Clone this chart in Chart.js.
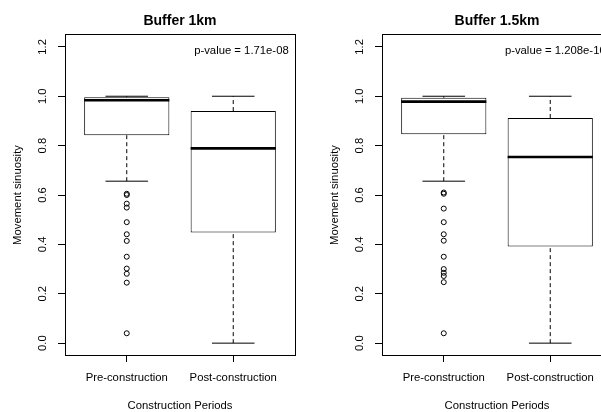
<!DOCTYPE html>
<html>
<head>
<meta charset="utf-8">
<script src="https://cdn.jsdelivr.net/npm/chart.js@4/dist/chart.umd.min.js"></script>
<style>
  html, body { margin: 0; padding: 0; background: #fff; overflow: hidden; }
  #wrap { position: relative; width: 601px; height: 412px; overflow: hidden; }
  .panel { position: absolute; top: 0; width: 317px; height: 412px; }
  #p1 { left: 0; }
  #p2 { left: 317px; }
</style>
</head>
<body>
<div id="wrap">
  <div class="panel" id="p1"><canvas id="c1" width="317" height="412"></canvas></div>
  <div class="panel" id="p2"><canvas id="c2" width="317" height="412"></canvas></div>
</div>
<script>
// Groups on the x axis
const categories = ['Pre-construction', 'Post-construction'];
const categoryPositions = [1, 2];

// Axis ticks
const yTicks = [0, 0.2, 0.4, 0.6, 0.8, 1.0, 1.2];
const yTickLabels = ['0.0', '0.2', '0.4', '0.6', '0.8', '1.0', '1.2'];

// Panel titles and test results
const panelTitles = ['Buffer 1km', 'Buffer 1.5km'];
const pValueLabels = ['p-value = 1.71e-08', 'p-value = 1.208e-10'];

// Box statistics: [lower whisker, Q1, median, Q3, upper whisker]
const statsPre1km = [0.656, 0.842, 0.984, 0.996, 1.0];
const statsPost1km = [0.0, 0.448, 0.789, 0.940, 1.0];
const statsPre15km = [0.656, 0.846, 0.978, 0.994, 1.0];
const statsPost15km = [0.0, 0.391, 0.754, 0.912, 1.0];

// Points beyond the whiskers
const outliersPre1km = [0.605, 0.600, 0.565, 0.549, 0.490, 0.441, 0.414, 0.350, 0.302, 0.281, 0.245, 0.040];
const outliersPost1km = [];
const outliersPre15km = [0.610, 0.605, 0.545, 0.490, 0.441, 0.415, 0.350, 0.300, 0.285, 0.272, 0.247, 0.040];
const outliersPost15km = [];

// Drawing constants
const FONT = '"Liberation Sans", Arial, Helvetica, sans-serif';
const TXT = 11.3;
const BOX_HALF = 0.4;      // half box width in x units
const CAP_HALF = 0.2;      // half whisker-cap width in x units
const INK = '#000';

function segments(groups, fn) {
  const out = [];
  groups.forEach(g => {
    const seg = fn(g);
    if (!seg) return;
    out.push(seg[0], seg[1], { x: g.x + 0.5, y: null });
  });
  return out;
}

const panelDecor = {
  id: 'panelDecor',
  afterDraw(chart, args, opts) {
    const { ctx, chartArea: a, scales: { y } } = chart;
    ctx.save();
    // frame around the plotting region
    ctx.strokeStyle = INK;
    ctx.lineWidth = 1;
    const l = Math.round(a.left), r = Math.round(a.right);
    const t = Math.round(a.top), b = Math.round(a.bottom);
    ctx.strokeRect(l + 0.5, t - 0.5, r - l, b - t + 1);
    // vertical y tick labels
    ctx.fillStyle = INK;
    ctx.font = TXT + 'px ' + FONT;
    ctx.textAlign = 'center';
    ctx.textBaseline = 'middle';
    yTicks.forEach((v, i) => {
      const py = y.getPixelForValue(v);
      ctx.save();
      ctx.translate(a.left - 22, py);
      ctx.rotate(-Math.PI / 2);
      ctx.fillText(yTickLabels[i], 0, 0);
      ctx.restore();
    });
    // test result in the top-right corner
    ctx.textAlign = 'right';
    ctx.fillText(opts.text, a.right - 6.3, a.top + 15.6);
    ctx.restore();
  }
};

function makePanel(canvasId, title, pText, stats, outliers) {
  const groups = categoryPositions.map((x, i) => ({ x, s: stats[i], out: outliers[i] }));

  const datasets = [
    {
      type: 'line', label: 'median',
      data: segments(groups, g => [{ x: g.x - BOX_HALF, y: g.s[2] }, { x: g.x + BOX_HALF, y: g.s[2] }]),
      borderColor: INK, borderWidth: 2.6, pointRadius: 0, fill: false, spanGaps: false, borderCapStyle: 'butt'
    },
    {
      type: 'line', label: 'upper cap',
      data: segments(groups, g => [{ x: g.x - CAP_HALF, y: g.s[4] }, { x: g.x + CAP_HALF, y: g.s[4] }]),
      borderColor: INK, borderWidth: 1, pointRadius: 0, fill: false, spanGaps: false
    },
    {
      type: 'line', label: 'lower cap',
      data: segments(groups, g => [{ x: g.x - CAP_HALF, y: g.s[0] }, { x: g.x + CAP_HALF, y: g.s[0] }]),
      borderColor: INK, borderWidth: 1, pointRadius: 0, fill: false, spanGaps: false
    },
    {
      type: 'line', label: 'upper whisker',
      data: segments(groups, g => [{ x: g.x, y: g.s[3] }, { x: g.x, y: g.s[4] }]),
      borderColor: INK, borderWidth: 1, borderDash: [4, 3], pointRadius: 0, fill: false, spanGaps: false
    },
    {
      type: 'line', label: 'lower whisker',
      data: segments(groups, g => [{ x: g.x, y: g.s[0] }, { x: g.x, y: g.s[1] }]),
      borderColor: INK, borderWidth: 1, borderDash: [4, 3], pointRadius: 0, fill: false, spanGaps: false
    },
    {
      type: 'scatter', label: 'outliers',
      data: groups.flatMap(g => g.out.map(v => ({ x: g.x, y: v }))),
      pointStyle: 'circle', pointRadius: 2.5, pointBorderWidth: 1,
      borderColor: INK, backgroundColor: 'rgba(0,0,0,0)'
    },
    {
      type: 'bar', label: 'box',
      data: groups.map(g => ({ x: g.x, y: [g.s[1], g.s[3]] })),
      backgroundColor: '#fff', borderColor: INK, borderWidth: 1, borderSkipped: false,
      barPercentage: 0.8, categoryPercentage: 1.0
    }
  ];

  return new Chart(document.getElementById(canvasId), {
    type: 'bar',
    data: { datasets },
    options: {
      responsive: false,
      animation: false,
      events: [],
      layout: { padding: { left: 0, right: 22, top: 0, bottom: 0 } },
      plugins: {
        legend: { display: false },
        tooltip: { enabled: false },
        title: {
          display: true, text: title, fullSize: false, color: INK,
          font: { family: FONT, size: 14, weight: 'bold', lineHeight: 1.2 },
          padding: { top: 12.7, bottom: 5.5 }
        },
        panelDecor: { text: pText }
      },
      scales: {
        x: {
          type: 'linear', min: 0.42, max: 2.58, offset: false,
          afterBuildTicks: s => { s.ticks = categoryPositions.map(v => ({ value: v })); },
          afterFit: s => { s.height = 57; },
          ticks: {
            color: INK, font: { family: FONT, size: TXT }, padding: 8.8,
            autoSkip: false, maxRotation: 0, minRotation: 0,
            callback: v => categories[categoryPositions.indexOf(v)]
          },
          grid: { display: true, drawOnChartArea: false, drawTicks: true, tickLength: 7, color: INK, offset: false },
          border: { display: false },
          title: {
            display: true, text: 'Construction Periods', color: INK,
            font: { family: FONT, size: TXT, lineHeight: 1 }, padding: { top: 0, bottom: 0 }
          }
        },
        y: {
          type: 'linear', min: -0.048, max: 1.248,
          afterBuildTicks: s => { s.ticks = yTicks.map(v => ({ value: v })); },
          afterFit: s => { s.width = 65; },
          ticks: { display: false },
          grid: { display: true, drawOnChartArea: false, drawTicks: true, tickLength: 7, color: INK },
          border: { display: false },
          title: {
            display: true, text: 'Movement sinuosity', color: INK,
            font: { family: FONT, size: TXT, lineHeight: 1.2 }, padding: { top: 11.2, bottom: 0 }
          }
        }
      }
    },
    plugins: [panelDecor]
  });
}

makePanel('c1', panelTitles[0], pValueLabels[0], [statsPre1km, statsPost1km], [outliersPre1km, outliersPost1km]);
makePanel('c2', panelTitles[1], pValueLabels[1], [statsPre15km, statsPost15km], [outliersPre15km, outliersPost15km]);
</script>
</body>
</html>
